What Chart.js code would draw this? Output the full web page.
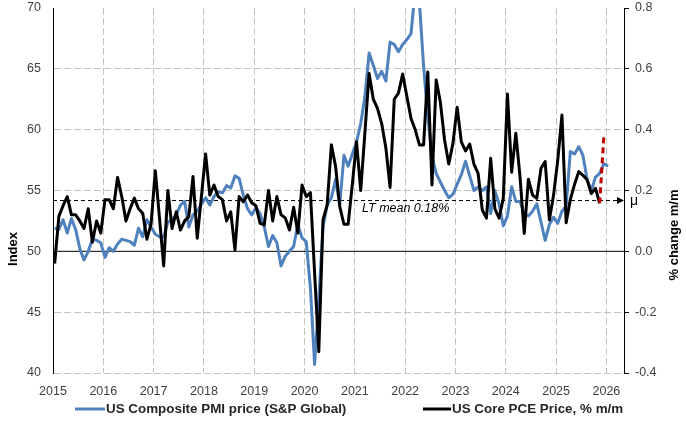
<!DOCTYPE html>
<html>
<head>
<meta charset="utf-8">
<script src="https://cdn.jsdelivr.net/npm/chart.js@4.4.1/dist/chart.umd.min.js"></script>
<style>
  html, body { margin: 0; padding: 0; background: #fff; }
</style>
</head>
<body>
<canvas id="myChart" width="686" height="426"></canvas>
<script>
// monthly series, first value = Jan 2015
var startYear = 2015;
var dayOffset = 0.4; // data sits a little after the month start on the date axis

var yearTicks = [2015, 2016, 2017, 2018, 2019, 2020, 2021, 2022, 2023, 2024, 2025, 2026];
var indexTicks = [40, 45, 50, 55, 60, 65, 70];
var pctTicks = [-0.4, -0.2, 0, 0.2, 0.4, 0.6, 0.8];

// US Composite PMI output prices (S&P Global), index
var pmiPrice = [
  51.9, 51.8, 52.6, 51.5, 52.7, 51.8, 50.2, 49.3, 50.0, 51.0, 50.9, 50.7,
  49.5, 50.3, 50.0, 50.6, 51.0, 50.9, 50.8, 50.5, 51.9, 51.2, 52.6, 52.0,
  51.4, 51.2, 51.2, 52.4, 52.6, 53.0, 53.8, 54.1, 52.0, 53.0, 53.3, 53.9,
  54.4, 53.8, 54.5, 54.9, 54.8, 55.4, 55.2, 56.2, 56.0, 54.6, 53.5, 53.0,
  53.6, 53.1, 52.0, 50.4, 51.3, 50.7, 48.8, 49.6, 50.0, 50.4, 52.2, 51.1,
  50.8, 47.0, 40.7, 46.0, 52.0, 53.8, 54.4, 55.9, 53.8, 57.9, 57.0, 58.0,
  59.0, 60.5, 62.7, 66.3, 65.3, 64.2, 64.8, 64.0, 67.2, 67.0, 66.4, 67.0,
  67.4, 67.9, 71.5, 70.5, 65.2, 61.1, 57.8, 56.4, 55.7, 55.0, 54.4, 54.7,
  55.5, 56.3, 57.4, 56.2, 55.0, 55.3, 55.0, 55.3, 53.1, 55.0, 53.9, 52.1,
  52.9, 55.3, 54.1, 54.1, 53.1, 52.9, 53.3, 53.9, 52.4, 50.9, 52.2, 52.8,
  52.3, 53.3, 53.7, 58.2, 58.0, 58.6, 57.9, 55.9, 55.0, 56.1, 56.4, 57.2,
  57.0
];

// US core PCE price, % m/m
var corePce = [
  -0.04, 0.115, 0.15, 0.18, 0.12, 0.12, 0.10, 0.075, 0.14, 0.03, 0.10, 0.06,
  0.17, 0.17, 0.14, 0.243, 0.18, 0.10, 0.14, 0.175, 0.14, 0.125, 0.04, 0.09,
  0.265, 0.11, -0.048, 0.20, 0.075, 0.13, 0.07, 0.10, 0.114, 0.246, 0.043, 0.18,
  0.32, 0.185, 0.218, 0.18, 0.17, 0.10, 0.13, 0.005, 0.18, 0.163, 0.185, 0.16,
  0.15, 0.092, 0.087, 0.20, 0.10, 0.18, 0.12, 0.11, 0.07, 0.145, 0.06, 0.218,
  0.18, 0.193, -0.07, -0.33, 0.103, 0.153, 0.35, 0.28, 0.147, 0.089, 0.089, 0.22,
  0.36, 0.20, 0.39, 0.585, 0.50, 0.47, 0.42, 0.34, 0.21, 0.50, 0.52, 0.583,
  0.51, 0.437, 0.40, 0.35, 0.35, 0.59, 0.218, 0.563, 0.49, 0.366, 0.287, 0.355,
  0.474, 0.36, 0.33, 0.353, 0.287, 0.256, 0.136, 0.109, 0.306, 0.14, 0.109, 0.174,
  0.517, 0.26, 0.388, 0.245, 0.059, 0.237, 0.185, 0.174, 0.273, 0.295, 0.103, 0.185,
  0.30, 0.448, 0.094, 0.17, 0.22, 0.262, 0.25, 0.235, 0.19, 0.207, 0.158
];

// red dashed step: last print -> next month
var pceNext = [0.158, 0.38];
var pceNextStart = 130; // Nov 2025

var ltMean = 0.167;
var ltMeanLabel = 'LT mean 0.18%';

var blue = '#4f81bd';
var gridGrey = '#c3c3c3';

function toPoints(vals, first) {
  return vals.map(function (v, i) {
    return { x: startYear + (first + i + dayOffset) / 12, y: v };
  });
}

// keep tick label overflow from pushing the plot down
function fixWidth(w) {
  return function (s) {
    s.width = w;
    s.paddingTop = 0;
    s.paddingBottom = 0;
  };
}

var overlay = {
  id: 'overlay',
  beforeDatasetsDraw: function (chart) {
    var c = chart.ctx, a = chart.chartArea, s = chart.scales;
    var y0 = s.y2.getPixelForValue(0);
    var ym = s.y2.getPixelForValue(ltMean);
    c.save();
    c.strokeStyle = '#000';
    c.lineWidth = 1;
    c.beginPath(); c.moveTo(a.left, y0); c.lineTo(a.right, y0); c.stroke();
    c.setLineDash([4, 3]);
    c.beginPath(); c.moveTo(a.left, ym); c.lineTo(a.right - 6, ym); c.stroke();
    c.restore();
  },
  afterDraw: function (chart) {
    var c = chart.ctx, a = chart.chartArea, s = chart.scales;
    var ym = s.y2.getPixelForValue(ltMean);
    c.save();
    // arrow + mu
    c.fillStyle = '#000';
    c.beginPath();
    c.moveTo(a.right, ym);
    c.lineTo(a.right - 7, ym - 3.5);
    c.lineTo(a.right - 7, ym + 3.5);
    c.closePath(); c.fill();
    c.font = '14px "Liberation Sans", Arial, sans-serif';
    c.textBaseline = 'alphabetic';
    c.fillText('\u03bc', a.right + 6, ym + 4);
    // mean label
    c.font = 'italic 12.5px "Liberation Sans", Arial, sans-serif';
    c.fillText(ltMeanLabel, a.left + 309, ym + 11.5);

    // legend
    var ly = 409;
    c.font = 'bold 13.4px "Liberation Sans", Arial, sans-serif';
    c.textBaseline = 'middle';
    c.lineWidth = 3;
    c.strokeStyle = blue;
    c.beginPath(); c.moveTo(75, ly); c.lineTo(105, ly); c.stroke();
    c.fillStyle = '#262626';
    c.fillText(chart.data.datasets[2].label, 106, ly);
    c.strokeStyle = '#000';
    c.beginPath(); c.moveTo(423, ly); c.lineTo(451, ly); c.stroke();
    c.fillText(chart.data.datasets[1].label, 452, ly);

    // axis titles
    c.font = 'bold 13px "Liberation Sans", Arial, sans-serif';
    c.textAlign = 'center';
    c.fillStyle = '#000';
    c.save(); c.translate(13, 249); c.rotate(-Math.PI / 2); c.fillText('Index', 0, 0); c.restore();
    c.save(); c.translate(674, 235); c.rotate(-Math.PI / 2); c.fillText('% change m/m', 0, 0); c.restore();
    c.restore();
  }
};

Chart.defaults.font.family = '"Liberation Sans Narrow", "Liberation Sans", Arial, sans-serif';
Chart.defaults.color = '#404040';

var ctx = document.getElementById('myChart').getContext('2d');

var myChart = new Chart(ctx, {
  type: 'line',
  data: {
    datasets: [
      {
        label: 'forecast',
        data: toPoints(pceNext, pceNextStart),
        yAxisID: 'y2',
        borderColor: '#c00000',
        borderWidth: 3,
        borderDash: [6, 4],
        order: 0
      },
      {
        label: 'US Core PCE Price, % m/m',
        data: toPoints(corePce, 0),
        yAxisID: 'y2',
        borderColor: '#000',
        borderWidth: 3,
        order: 1
      },
      {
        label: 'US Composite PMI price (S&P Global)',
        data: toPoints(pmiPrice, 0),
        yAxisID: 'y',
        borderColor: blue,
        borderWidth: 3,
        order: 2
      }
    ]
  },
  options: {
    responsive: false,
    animation: false,
    layout: { padding: { top: 8 } },
    elements: {
      point: { radius: 0 },
      line: { tension: 0, borderJoinStyle: 'round', fill: false }
    },
    plugins: {
      legend: { display: false },
      tooltip: { enabled: false }
    },
    scales: {
      x: {
        type: 'linear',
        min: 2015,
        max: 2026.35,
        afterBuildTicks: function (s) { s.ticks = yearTicks.map(function (v) { return { value: v }; }); },
        afterFit: function (s) { s.height = 53; },
        grid: {
          color: function (c) { return c.tick && c.tick.value === 2015 ? 'rgba(0,0,0,0)' : gridGrey; },
          drawTicks: false
        },
        border: { display: false, dash: [7, 3] },
        ticks: {
          padding: 11,
          font: { size: 12.5 },
          maxRotation: 0,
          autoSkip: false,
          callback: function (v) { return String(v); }
        }
      },
      y: {
        position: 'left',
        min: 40,
        max: 70,
        afterBuildTicks: function (s) { s.ticks = indexTicks.map(function (v) { return { value: v }; }); },
        afterFit: fixWidth(53),
        grid: {
          color: function (c) {
            var v = c.tick ? c.tick.value : null;
            return (v === 50 || v === 70) ? 'rgba(0,0,0,0)' : gridGrey;
          },
          drawTicks: false
        },
        border: { display: true, color: '#000', width: 1, dash: [7, 3] },
        ticks: { padding: 12, font: { size: 12.5 } }
      },
      y2: {
        position: 'right',
        min: -0.4,
        max: 0.8,
        afterBuildTicks: function (s) { s.ticks = pctTicks.map(function (v) { return { value: v }; }); },
        afterFit: fixWidth(62),
        grid: { drawOnChartArea: false, drawTicks: true, tickLength: 5, tickColor: '#000' },
        border: { display: true, color: '#000', width: 1 },
        ticks: {
          padding: 6,
          font: { size: 12.5 },
          callback: function (v) { return v.toFixed(1); }
        }
      }
    }
  },
  plugins: [overlay]
});
</script>
</body>
</html>
